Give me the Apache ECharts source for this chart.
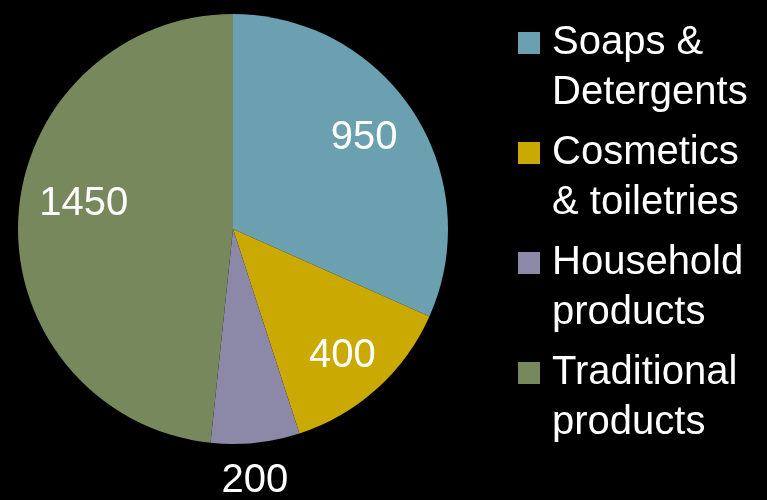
<!DOCTYPE html>
<html>
<head>
<meta charset="utf-8">
<script src="https://cdn.jsdelivr.net/npm/echarts@6/dist/echarts.min.js"></script>
<style>
html,body{margin:0;padding:0;background:#000;}
#c{width:767px;height:500px;}
</style>
</head>
<body>
<div id="c"></div>
<script>
// ---- data ----
const categories = ['Soaps &\nDetergents', 'Cosmetics\n& toiletries', 'Household\nproducts', 'Traditional\nproducts'];
const values = [950, 400, 200, 1450];
const colors = ['#6BA0B0', '#C9A902', '#8C88A8', '#77885C'];
// label placement: fraction of radius, angular nudge (deg)
const labelRadius = [0.745, 0.775, 1.17, 0.705];
const labelNudge = [-2, 1, 1, 7];

const CX = 233, CY = 229, R = 215;
const total = values.reduce((a, b) => a + b, 0);

const chart = echarts.init(document.getElementById('c'));
chart.setOption({
  backgroundColor: '#000',
  animation: false,
  legend: {
    orient: 'vertical',
    left: 518,
    top: -32,
    padding: 0,
    itemWidth: 22,
    itemHeight: 22,
    itemGap: -40,
    icon: 'rect',
    data: categories,
    formatter: function (name) { return '\n' + name; },
    textStyle: {
      color: '#fff',
      fontSize: 40,
      lineHeight: 50,
      fontFamily: 'Liberation Sans',
      padding: [0, 0, 0, 7]
    }
  },
  series: [{
    type: 'pie',
    center: [CX, CY],
    radius: R,
    startAngle: 90,
    clockwise: true,
    avoidLabelOverlap: false,
    label: {
      show: true,
      position: 'inside',
      color: '#fff',
      fontSize: 40,
      fontFamily: 'Liberation Sans',
      formatter: '{c}'
    },
    labelLine: { show: false },
    labelLayout: function (p) {
      const i = p.dataIndex;
      let before = 0;
      for (let j = 0; j < i; j++) before += values[j];
      const mid = (before + values[i] / 2) / total * 360 + labelNudge[i];
      const a = mid * Math.PI / 180;
      const r = labelRadius[i] * R;
      return {
        x: CX + r * Math.sin(a),
        y: CY - r * Math.cos(a) + 1,
        align: 'center',
        verticalAlign: 'middle'
      };
    },
    emphasis: { disabled: true },
    data: categories.map((n, i) => ({
      name: n,
      value: values[i],
      itemStyle: { color: colors[i] }
    }))
  }]
});
</script>
</body>
</html>
